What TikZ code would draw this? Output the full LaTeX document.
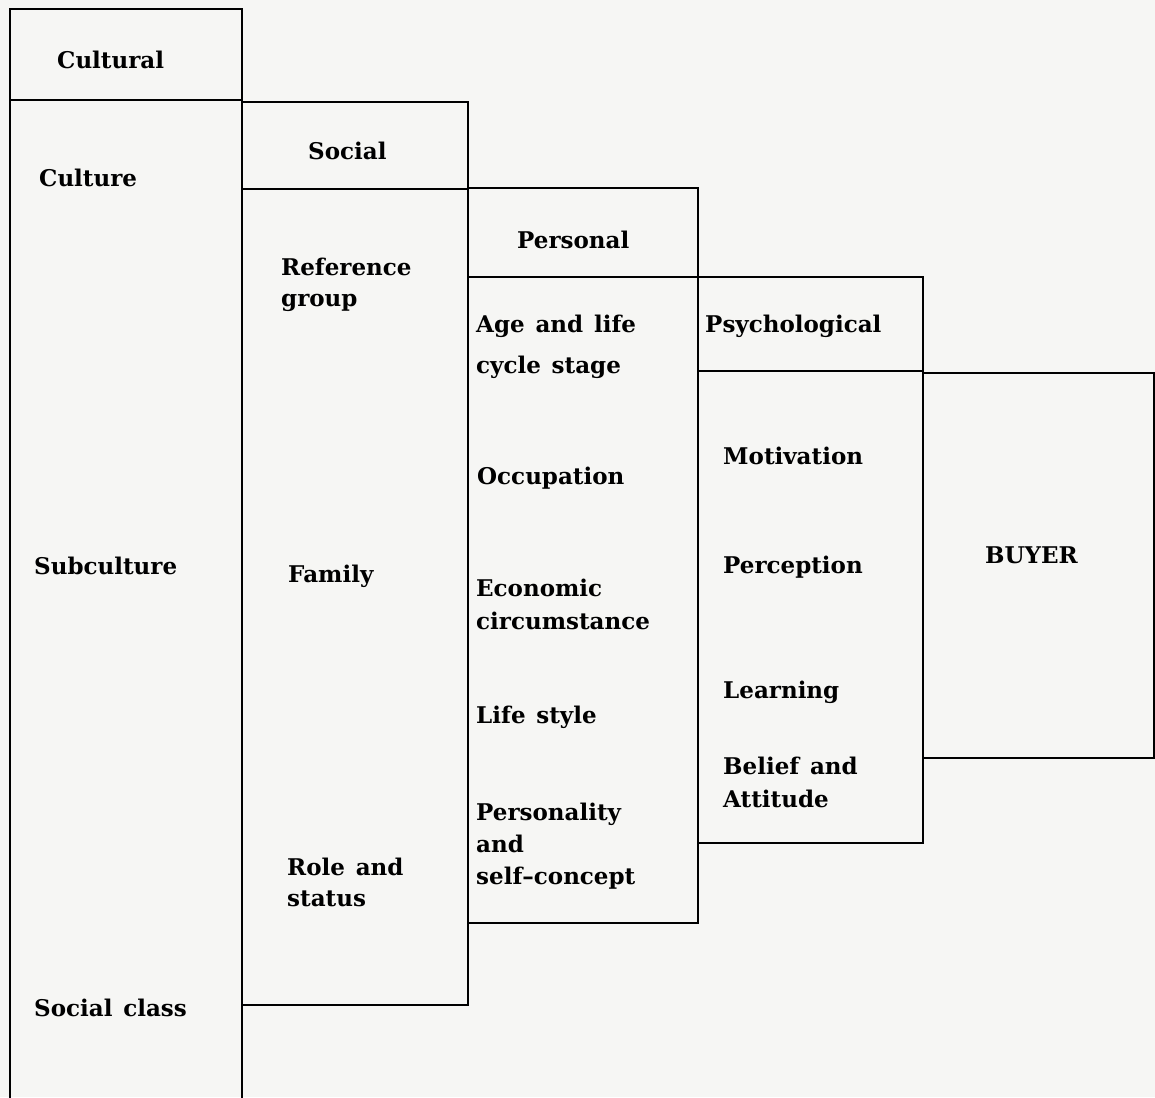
\documentclass[tikz,border=0pt]{standalone}
\usepackage{fontspec}
\setmainfont[WordSpace={1.35,1,1}]{DejaVu Serif}
\begin{document}
\begin{tikzpicture}[x=1pt,y=-1pt,
  frame/.style={line width=1.8pt,black,line cap=rect},
  lbl/.style={anchor=base west,inner sep=0pt,font=\fontsize{23}{28}\selectfont\bfseries}]
\definecolor{paper}{HTML}{F6F6F4}
\fill[paper] (0,0) rectangle (1155,1097);
\useasboundingbox (0,0) rectangle (1155,1097);

% Cultural column (open at the bottom)
\draw[frame] (10,1097) -- (10,9) -- (242,9) -- (242,1097);
\draw[frame] (10,100) -- (242,100);
% Social column
\draw[frame] (242,102) -- (468,102) -- (468,1005) -- (242,1005);
\draw[frame] (242,189) -- (468,189);
% Personal column
\draw[frame] (468,188) -- (698,188) -- (698,923) -- (468,923);
\draw[frame] (468,277) -- (698,277);
% Psychological column
\draw[frame] (698,277) -- (923,277) -- (923,843) -- (698,843);
\draw[frame] (698,371) -- (923,371);
% Buyer box
\draw[frame] (923,373) -- (1154,373) -- (1154,758) -- (923,758);

% Cultural
\node[lbl] (cultural) at (57,69) {Cultural};
\node[lbl] (culture) at (39,186) {Culture};
\node[lbl] (subculture) at (34,574) {Subculture};
\node[lbl] (socialclass) at (34,1016) {Social class};
% Social
\node[lbl] (social) at (308,159) {Social};
\node[lbl] (refA) at (281,275) {Reference};
\node[lbl] (refB) at (281,306) {group};
\node[lbl] (family) at (288,582) {Family};
\node[lbl] (roleA) at (287,875) {Role and};
\node[lbl] (roleB) at (287,906) {status};
% Personal
\node[lbl] (personal) at (517,248) {Personal};
\node[lbl] (ageA) at (476,332) {Age and life};
\node[lbl] (ageB) at (476,373) {cycle stage};
\node[lbl] (occupation) at (477,484) {Occupation};
\node[lbl] (econA) at (476,596) {Economic};
\node[lbl] (econB) at (476,629) {circumstance};
\node[lbl] (lifestyle) at (476,723) {Life style};
\node[lbl] (persA) at (476,820) {Personality};
\node[lbl] (persB) at (476,852) {and};
\node[lbl] (persC) at (476,884) {self–concept};
% Psychological
\node[lbl] (psych) at (705,332) {Psychological};
\node[lbl] (motivation) at (723,464) {Motivation};
\node[lbl] (perception) at (723,573) {Perception};
\node[lbl] (learning) at (723,698) {Learning};
\node[lbl] (beliefA) at (723,774) {Belief and};
\node[lbl] (beliefB) at (723,807) {Attitude};
% Buyer
\node[lbl] (buyer) at (985,563) {BUYER};
\end{tikzpicture}
\end{document}
